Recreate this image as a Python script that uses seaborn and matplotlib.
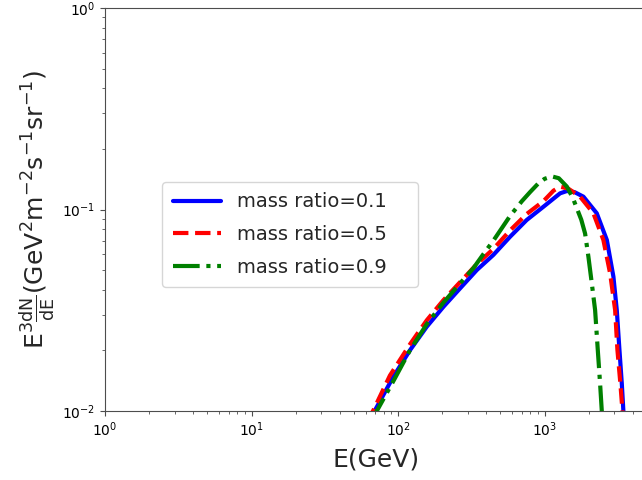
import numpy as np
import pandas as pd
import seaborn as sns
import matplotlib.pyplot as plt

# spectra (E in GeV, E^3 dN/dE)
e_01 = [63, 69.7, 92.9, 121, 157, 204, 265, 345, 447, 582, 755, 982, 1276, 1420, 1600, 1841,
        2270, 2660, 2950, 3110, 3243, 3365, 3450, 3520]
f_01 = [0.0088, 0.0101, 0.0148, 0.0201, 0.0262, 0.0329, 0.0406, 0.0501, 0.0595, 0.0733, 0.0887,
        0.1032, 0.1203, 0.1235, 0.122, 0.1158, 0.0958, 0.0706, 0.0464, 0.0317, 0.0201, 0.0137,
        0.0100, 0.008]

e_05 = [61, 67.9, 88, 121, 157, 204, 265, 345, 447, 582, 755, 982, 1150, 1276, 1450, 1747,
        2153, 2519, 2800, 3030, 3141, 3290, 3400, 3470]
f_05 = [0.0088, 0.0101, 0.0150, 0.0215, 0.0282, 0.0355, 0.0436, 0.0536, 0.0637, 0.0788, 0.0950,
        0.1100, 0.1240, 0.1298, 0.127, 0.1158, 0.0958, 0.0706, 0.0482, 0.0317, 0.0201, 0.0137,
        0.0100, 0.008]

e_09 = [66, 71.6, 95, 121, 157, 204, 265, 327, 382, 447, 582, 700, 796, 900, 1000, 1120, 1250,
        1418, 1560, 1660, 1780, 1890, 1991, 2100, 2212, 2307, 2392, 2457, 2490]
f_09 = [0.0088, 0.0100, 0.0145, 0.0201, 0.0270, 0.0345, 0.0430, 0.0512, 0.0600, 0.0700, 0.0930,
        0.1100, 0.1220, 0.1340, 0.1420, 0.1460, 0.1430, 0.1300, 0.1140, 0.1014, 0.0890, 0.0760,
        0.0583, 0.0430, 0.0317, 0.0201, 0.0137, 0.0100, 0.008]

labels = ['mass ratio=0.1', 'mass ratio=0.5', 'mass ratio=0.9']

sns.set_style('ticks', {'axes.edgecolor': '.3', 'xtick.color': '.3', 'ytick.color': '.3'})
plt.rcParams['font.family'] = ['DejaVu Sans']
plt.rcParams['mathtext.default'] = 'regular'

fig = plt.figure(figsize=(6.42, 4.8), dpi=100)
ax = fig.add_axes([105 / 642, 69 / 480, 542 / 642, 403 / 480])

styles = [('blue', '-'), ('red', '--'), ('green', '-.')]
for (e, f), lab, (c, ls) in zip([(e_01, f_01), (e_05, f_05), (e_09, f_09)], labels, styles):
    df = pd.DataFrame({'E': e, 'flux': f})
    sns.lineplot(data=df, x='E', y='flux', ax=ax, color=c, linestyle=ls,
                 linewidth=3, label=lab, sort=False)

ax.set_xscale('log')
ax.set_yscale('log')
ax.set_xlim(1, 5000)
ax.set_ylim(1e-2, 1)
ax.tick_params(labelsize=10, labelcolor='black')
ax.set_xlabel('E(GeV)', fontsize=18, labelpad=6)
ax.set_ylabel(r'$\mathrm{E^3\frac{dN}{dE}(GeV^2m^{-2}s^{-1}sr^{-1})}$', fontsize=18)
# legend box spans x 162-418 px, y 181-288 px in the reference
ax.legend(loc='center left', bbox_to_anchor=(57 / 542, 176.5 / 403, 256 / 542, 0),
          mode='expand', borderaxespad=0, fontsize=14, handlelength=2.5,
          labelspacing=0.7, borderpad=0.55)

fig.savefig('out.png', dpi=100)
